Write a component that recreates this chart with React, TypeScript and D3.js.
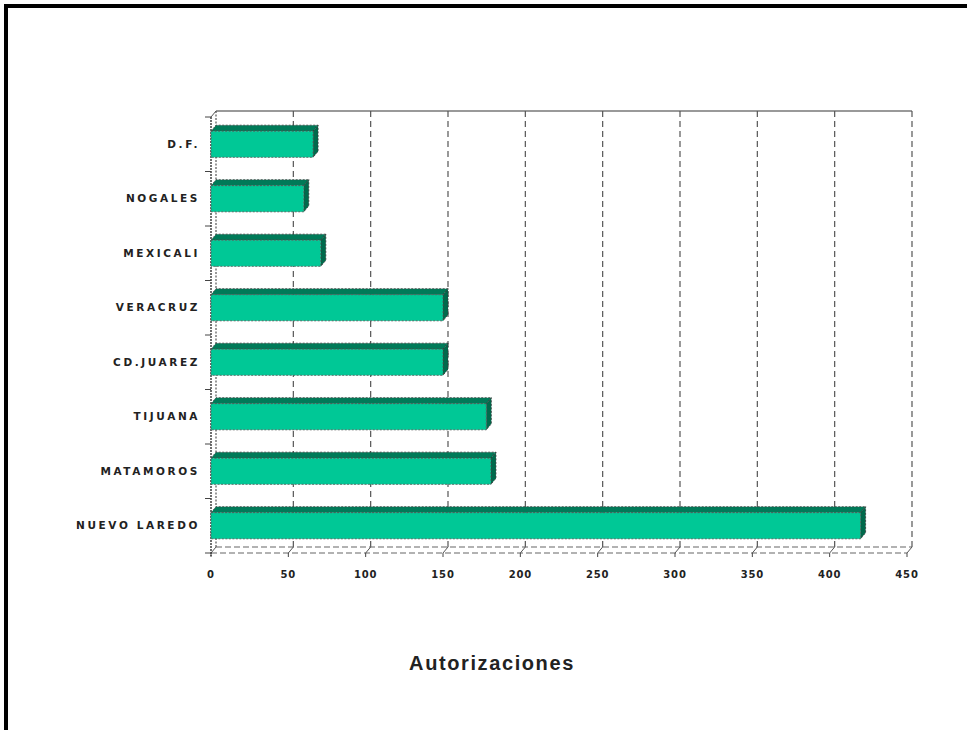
import React, { useEffect, useRef } from "react";
import * as d3 from "d3";

const categories = ["D.F.", "NOGALES", "MEXICALI", "VERACRUZ", "CD.JUAREZ", "TIJUANA", "MATAMOROS", "NUEVO LAREDO"];
const autorizaciones = [66, 60, 71, 150, 150, 178, 181, 420];
const xTicks = [0, 50, 100, 150, 200, 250, 300, 350, 400, 450];
const axisTitle = "Autorizaciones";

const W = 967;
const H = 730;
// 3D depth offset (back plane relative to front plane)
const DX = 5;
const DY = -6;

export default function App() {
  const ref = useRef<SVGSVGElement>(null);

  useEffect(() => {
    const svg = d3.select(ref.current);
    svg.selectAll("*").remove();

    const x = d3.scaleLinear().domain([0, 450]).range([211, 907]);
    const y = d3.scaleBand().domain(categories).range([117, 553]).paddingInner(0.52).paddingOuter(0.26);
    const yb = d3.scaleBand().domain(categories).range([117, 553]);

    const left = x(0), right = x(450), top = y.range()[0], bottom = y.range()[1];

    // frame (top and left only)
    svg.append("rect").attr("x", 4).attr("y", 4).attr("width", W - 4).attr("height", 4).attr("fill", "#000");
    svg.append("rect").attr("x", 4).attr("y", 4).attr("width", 4).attr("height", H - 4).attr("fill", "#000");

    const g = svg.append("g");

    // back wall top line
    g.append("line").attr("x1", left + DX).attr("x2", right + DX).attr("y1", top + DY).attr("y2", top + DY)
      .attr("stroke", "#777").attr("stroke-width", 1.5);

    // back wall vertical grid lines
    g.selectAll(".grid").data(xTicks.slice(1)).join("line").attr("class", "grid")
      .attr("x1", d => x(d) + DX).attr("x2", d => x(d) + DX)
      .attr("y1", top + DY).attr("y2", bottom + DY)
      .attr("stroke", "#555").attr("stroke-width", 1.2).attr("stroke-dasharray", "6,4");

    // floor
    g.append("line").attr("x1", left + DX).attr("x2", right + DX).attr("y1", bottom + DY).attr("y2", bottom + DY)
      .attr("stroke", "#666").attr("stroke-width", 1.2).attr("stroke-dasharray", "6,3");
    g.append("line").attr("x1", left).attr("x2", right).attr("y1", bottom).attr("y2", bottom)
      .attr("stroke", "#666").attr("stroke-width", 1.2).attr("stroke-dasharray", "6,3");
    g.selectAll(".floortick").data(xTicks).join("line").attr("class", "floortick")
      .attr("x1", d => x(d)).attr("x2", d => x(d) + DX)
      .attr("y1", bottom).attr("y2", bottom + DY)
      .attr("stroke", "#555").attr("stroke-width", 1);

    // left wall
    g.append("line").attr("x1", left + DX).attr("x2", left + DX).attr("y1", top + DY).attr("y2", bottom + DY)
      .attr("stroke", "#555").attr("stroke-width", 1.2).attr("stroke-dasharray", "2,1.5");
    g.append("line").attr("x1", left).attr("x2", left).attr("y1", top).attr("y2", bottom + 3)
      .attr("stroke", "#333").attr("stroke-width", 1.4).attr("stroke-dasharray", "2,1");
    g.append("line").attr("x1", left).attr("x2", left + DX).attr("y1", top).attr("y2", top + DY)
      .attr("stroke", "#555").attr("stroke-width", 1);

    // category ticks on the left
    const bounds = categories.map(c => yb(c) as number).concat([bottom]);
    g.selectAll(".ytick").data(bounds).join("line").attr("class", "ytick")
      .attr("x1", left - 6).attr("x2", left).attr("y1", d => d).attr("y2", d => d)
      .attr("stroke", "#444").attr("stroke-width", 1);

    // x ticks on the front floor edge
    g.selectAll(".xtick").data(xTicks).join("line").attr("class", "xtick")
      .attr("x1", d => x(d)).attr("x2", d => x(d)).attr("y1", bottom).attr("y2", bottom + 4)
      .attr("stroke", "#444").attr("stroke-width", 1);

    // bars
    const bars = g.selectAll(".bar").data(categories).join("g").attr("class", "bar");
    // top face
    bars.append("path")
      .attr("d", (c, i) => {
        const y0 = y(c) as number, x1 = x(autorizaciones[i]);
        return `M${left},${y0} L${left + DX},${y0 + DY} L${x1 + DX},${y0 + DY} L${x1},${y0} Z`;
      })
      .attr("fill", "#007a58").attr("stroke", "#444").attr("stroke-width", 0.8).attr("stroke-dasharray", "2,1.5");
    // side face
    bars.append("path")
      .attr("d", (c, i) => {
        const y0 = y(c) as number, h = y.bandwidth(), x1 = x(autorizaciones[i]);
        return `M${x1},${y0} L${x1 + DX},${y0 + DY} L${x1 + DX},${y0 + h + DY} L${x1},${y0 + h} Z`;
      })
      .attr("fill", "#006a4c").attr("stroke", "#333").attr("stroke-width", 0.8).attr("stroke-dasharray", "2,1.5");
    // front face
    bars.append("rect")
      .attr("x", left).attr("y", c => y(c) as number)
      .attr("width", (c, i) => x(autorizaciones[i]) - left).attr("height", y.bandwidth())
      .attr("fill", "#00c896").attr("stroke", "#555").attr("stroke-width", 0.8).attr("stroke-dasharray", "2,1.5");

    // category labels
    g.selectAll(".ylab").data(categories).join("text").attr("class", "ylab")
      .attr("x", 200).attr("y", c => (y(c) as number) + y.bandwidth() / 2)
      .attr("dy", "0.35em").attr("text-anchor", "end")
      .attr("font-family", "DejaVu Sans, sans-serif").attr("font-size", 10.5).attr("font-weight", "bold")
      .attr("letter-spacing", 2.6).attr("fill", "#222").text(c => c);

    // x tick labels
    g.selectAll(".xlab").data(xTicks).join("text").attr("class", "xlab")
      .attr("x", d => x(d)).attr("y", bottom + 25).attr("text-anchor", "middle")
      .attr("font-family", "DejaVu Sans, sans-serif").attr("font-size", 10).attr("font-weight", "bold")
      .attr("letter-spacing", 0.8).attr("fill", "#222").text(d => String(d));

    // axis title
    svg.append("text").attr("x", 492).attr("y", 670).attr("text-anchor", "middle")
      .attr("font-family", "Liberation Sans, Arial, sans-serif").attr("font-size", 20).attr("font-weight", "bold")
      .attr("letter-spacing", 1.6).attr("fill", "#222").text(axisTitle);
  }, []);

  return (
    <svg ref={ref} width={W} height={H} style={{ position: "absolute", left: 0, top: 0, background: "#fff" }} />
  );
}
